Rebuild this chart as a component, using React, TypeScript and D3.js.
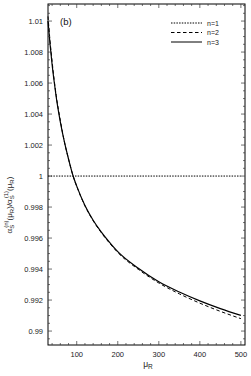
import React, { useEffect, useRef } from "react";
import * as d3 from "d3";

// renormalisation-scale dependence of alpha_s, ratio to the 1-loop value

const muR = [30, 35, 40, 45, 50, 60, 70, 80, 91.19, 100, 120, 140, 160, 180, 200, 250, 300, 350, 400, 450, 500];
const ratioN1 = muR.map(() => 1);
const ratioN2 = [1.0103, 1.0087, 1.0074, 1.0062, 1.0052, 1.0036, 1.0022, 1.0011, 1.0, 0.99934, 0.99808, 0.99712, 0.99634, 0.99567, 0.99507, 0.99398, 0.9931, 0.9924, 0.9918, 0.99127, 0.9908];
const ratioN3 = [1.01, 1.0085, 1.0072, 1.0061, 1.0051, 1.0035, 1.0022, 1.0011, 1.0, 0.99935, 0.9981, 0.99715, 0.99638, 0.99572, 0.99512, 0.99405, 0.99318, 0.99252, 0.99195, 0.99145, 0.99101];

const xTicks = [100, 200, 300, 400, 500];
const yTicks = [0.99, 0.992, 0.994, 0.996, 0.998, 1, 1.002, 1.004, 1.006, 1.008, 1.01];
const seriesNames = ["n=1", "n=2", "n=3"];

export default function App() {
  const svgRef = useRef<SVGSVGElement>(null);

  useEffect(() => {
    const svg = d3.select(svgRef.current);
    svg.selectAll("*").remove();

    const W = 251, H = 376;
    const margin = { top: 4, right: 6, bottom: 31, left: 48 };
    const width = W - margin.left - margin.right;
    const height = H - margin.top - margin.bottom;
    const font = "'Liberation Sans', Arial, sans-serif";

    const x = d3.scaleLinear().domain([30, 510]).range([0, width]);
    const y = d3.scaleLinear().domain([0.9891, 1.0111]).range([height, 0]);

    const g = svg.append("g").attr("transform", `translate(${margin.left},${margin.top})`);

    const styles = [
      { data: ratioN1, dash: "1.5,1.2", w: 1 },
      { data: ratioN2, dash: "3.5,2.5", w: 1 },
      { data: ratioN3, dash: null, w: 1.2 },
    ];

    const line = d3
      .line<number>()
      .x((d, i) => x(muR[i]))
      .y((d) => y(d))
      .curve(d3.curveMonotoneX);

    styles.forEach((s) => {
      g.append("path")
        .datum(s.data)
        .attr("fill", "none")
        .attr("stroke", "#000")
        .attr("stroke-width", s.w)
        .attr("stroke-dasharray", s.dash)
        .attr("d", line);
    });

    // frame
    g.append("rect")
      .attr("width", width)
      .attr("height", height)
      .attr("fill", "none")
      .attr("stroke", "#000")
      .attr("stroke-width", 1);

    // ticks, inside, on all four sides
    const xMinor = d3.range(40, 511, 20);
    const yMinor = d3.range(0, 45).map((i) => 0.9895 + i * 0.0005).filter((v) => v < 1.0111);
    const tickColor = "#333";

    xMinor.forEach((v) => {
      const major = xTicks.includes(v);
      const len = major ? 4 : 2;
      g.append("line").attr("x1", x(v)).attr("x2", x(v)).attr("y1", height).attr("y2", height - len).attr("stroke", tickColor).attr("stroke-width", 0.7);
      g.append("line").attr("x1", x(v)).attr("x2", x(v)).attr("y1", 0).attr("y2", len).attr("stroke", tickColor).attr("stroke-width", 0.7);
    });
    yMinor.forEach((v) => {
      const major = yTicks.some((t) => Math.abs(t - v) < 1e-7);
      const len = major ? 4 : 2;
      g.append("line").attr("y1", y(v)).attr("y2", y(v)).attr("x1", 0).attr("x2", len).attr("stroke", tickColor).attr("stroke-width", 0.7);
      g.append("line").attr("y1", y(v)).attr("y2", y(v)).attr("x1", width).attr("x2", width - len).attr("stroke", tickColor).attr("stroke-width", 0.7);
    });

    g.selectAll(".xl")
      .data(xTicks)
      .enter()
      .append("text")
      .attr("x", (d) => x(d))
      .attr("y", height + 12)
      .attr("text-anchor", "middle")
      .attr("font-family", font)
      .attr("font-size", 7.5)
      .attr("fill", "#222")
      .text((d) => String(d));

    g.selectAll(".yl")
      .data(yTicks)
      .enter()
      .append("text")
      .attr("x", -5)
      .attr("y", (d) => y(d) + 2.6)
      .attr("text-anchor", "end")
      .attr("font-family", font)
      .attr("font-size", 7.5)
      .attr("fill", "#222")
      .text((d) => String(+d.toFixed(3)));

    // axis titles
    const xt = svg.append("text")
      .attr("x", 148)
      .attr("y", 367)
      .attr("text-anchor", "middle")
      .attr("font-family", font)
      .attr("font-size", 8.5)
      .attr("fill", "#222");
    xt.append("tspan").text("μ");
    xt.append("tspan").attr("font-size", 6.5).attr("dy", 2).text("R");

    const yt = svg.append("text")
      .attr("transform", "translate(12,205) rotate(-90)")
      .attr("text-anchor", "middle")
      .attr("font-family", font)
      .attr("font-size", 8)
      .attr("fill", "#222");
    yt.append("tspan").text("α");
    yt.append("tspan").attr("font-size", 6).attr("dy", 2).text("S");
    yt.append("tspan").attr("font-size", 6).attr("dy", -6).attr("dx", -3).text("(n)");
    yt.append("tspan").attr("dy", 4).text("(μ");
    yt.append("tspan").attr("font-size", 6).attr("dy", 2).text("R");
    yt.append("tspan").attr("dy", -2).text(")/α");
    yt.append("tspan").attr("font-size", 6).attr("dy", 2).text("S");
    yt.append("tspan").attr("font-size", 6).attr("dy", -6).attr("dx", -3).text("(1)");
    yt.append("tspan").attr("dy", 4).text("(μ");
    yt.append("tspan").attr("font-size", 6).attr("dy", 2).text("R");
    yt.append("tspan").attr("dy", -2).text(")");

    g.append("text")
      .attr("x", 12)
      .attr("y", 21)
      .attr("font-family", font)
      .attr("font-size", 9.5)
      .attr("fill", "#111")
      .text("(b)");

    // legend
    const leg = g.append("g").attr("transform", "translate(123,19)");
    styles.forEach((s, i) => {
      leg.append("line")
        .attr("x1", 0)
        .attr("x2", 31)
        .attr("y1", i * 9.5)
        .attr("y2", i * 9.5)
        .attr("stroke", "#000")
        .attr("stroke-width", 1)
        .attr("stroke-dasharray", s.dash);
      leg.append("text")
        .attr("x", 36)
        .attr("y", i * 9.5 + 2.5)
        .attr("font-family", font)
        .attr("font-size", 7)
        .attr("fill", "#222")
        .text(seriesNames[i]);
    });
  }, []);

  return (
    <svg
      ref={svgRef}
      width={251}
      height={376}
      style={{ position: "absolute", left: 0, top: 0, background: "#fff" }}
    />
  );
}
